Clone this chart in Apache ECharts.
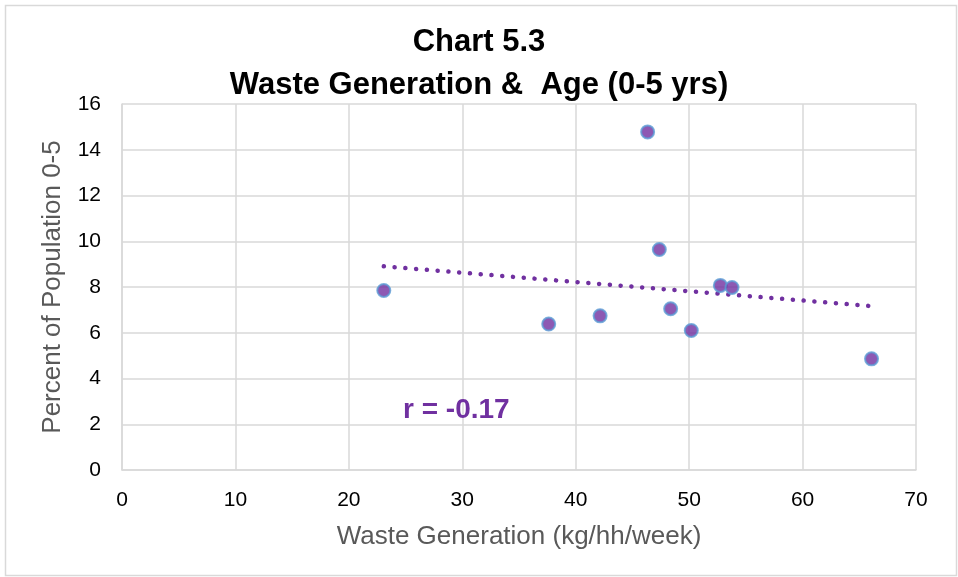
<!DOCTYPE html>
<html><head><meta charset="utf-8">
<script src="https://cdn.jsdelivr.net/npm/echarts@6/dist/echarts.min.js"></script>
<style>html,body{margin:0;padding:0;background:#fff}#c{width:958px;height:577px}</style>
</head><body><div id="c"></div>
<script>
const titleLines = ['Chart 5.3', 'Waste Generation &  Age (0-5 yrs)'];
const xName = 'Waste Generation (kg/hh/week)';
const yName = 'Percent of Population 0-5';
const wasteGen = [23.08, 37.62, 42.15, 46.34, 47.37, 48.37, 50.19, 52.75, 53.78, 66.08];
const pctAge05 = [7.85, 6.38, 6.74, 14.78, 9.64, 7.05, 6.10, 8.07, 7.98, 4.86];
const rLabel = 'r = -0.17';

const pts = wasteGen.map((x, i) => [x, pctAge05[i]]);
// least-squares trendline from the data
const n = wasteGen.length;
const mx = wasteGen.reduce((a, b) => a + b, 0) / n;
const my = pctAge05.reduce((a, b) => a + b, 0) / n;
let sxy = 0, sxx = 0;
for (let i = 0; i < n; i++) { sxy += (wasteGen[i] - mx) * (pctAge05[i] - my); sxx += (wasteGen[i] - mx) ** 2; }
const slope = sxy / sxx, icpt = my - slope * mx;
const xMin = Math.min(...wasteGen), xMax = Math.max(...wasteGen);
const trend = [[xMin, icpt + slope * xMin], [xMax, icpt + slope * xMax]];

const chart = echarts.init(document.getElementById('c'), null, {renderer: 'canvas'});
const font = 'Arial, "Liberation Sans", sans-serif';
chart.setOption({
  backgroundColor: '#fff',
  animation: false,
  title: {
    text: titleLines.join('\n'),
    left: 'center', top: 16,
    textStyle: {fontFamily: font, fontSize: 31, fontWeight: 'bold', color: '#000', lineHeight: 43}
  },
  graphic: [
    {type: 'rect', left: 3, top: 3, shape: {width: 951, height: 570}, style: {fill: 'none', stroke: '#d9d9d9', lineWidth: 1.5}, silent: true, z: -1},
    {type: 'text', left: 403, top: 396, style: {text: rLabel, fontFamily: font, fontSize: 28, fontWeight: 'bold', fill: '#7030a0'}, z: 10}
  ],
  grid: {left: 122, right: 42, top: 104, bottom: 107, containLabel: false},
  xAxis: {
    type: 'value', min: 0, max: 70, interval: 10,
    name: xName, nameLocation: 'middle', nameGap: 54,
    nameTextStyle: {fontFamily: font, fontSize: 26, color: '#595959'},
    axisLine: {show: true, lineStyle: {color: '#d9d9d9', width: 1.5}},
    axisTick: {show: false},
    axisLabel: {fontFamily: font, fontSize: 21, color: '#000', margin: 20},
    splitLine: {show: true, lineStyle: {color: '#d9d9d9', width: 1.5}}
  },
  yAxis: {
    type: 'value', min: 0, max: 16, interval: 2,
    name: yName, nameLocation: 'middle', nameGap: 56,
    nameTextStyle: {fontFamily: font, fontSize: 26, color: '#595959'},
    axisLine: {show: true, lineStyle: {color: '#d9d9d9', width: 1.5}},
    axisTick: {show: false},
    axisLabel: {fontFamily: font, fontSize: 21, color: '#000', margin: 21},
    splitLine: {show: true, lineStyle: {color: '#d9d9d9', width: 1.5}}
  },
  series: [
    {
      type: 'line', data: trend, showSymbol: false, symbol: 'none', z: 2,
      lineStyle: {color: '#7030a0', width: 4.5, type: [0.1, 10.7], cap: 'round'}
    },
    {
      type: 'scatter', data: pts, symbol: 'circle', symbolSize: 13, z: 3,
      itemStyle: {color: '#7030a0', borderColor: '#5b9bd5', borderWidth: 2}
    }
  ]
});
</script></body></html>
